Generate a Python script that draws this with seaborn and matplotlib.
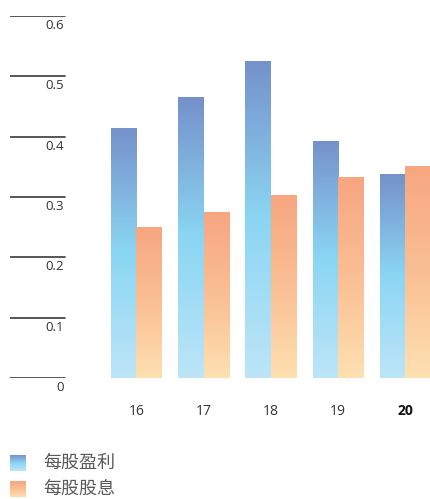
import matplotlib
matplotlib.use("Agg")
import matplotlib.pyplot as plt
import matplotlib.transforms as mtransforms
from matplotlib.colors import LinearSegmentedColormap
import seaborn as sns
import pandas as pd
import numpy as np

years = ["16", "17", "18", "19", "20"]
eps = [0.415, 0.465, 0.525, 0.393, 0.338]
dps = [0.250, 0.275, 0.303, 0.333, 0.352]
series = ["每股盈利", "每股股息"]
y_ticks = [0, 0.1, 0.2, 0.3, 0.4, 0.5, 0.6]

sns.set_theme(style="white")
plt.rcParams["font.family"] = ["Open Sans", "Noto Sans CJK SC", "DejaVu Sans"]

blue = LinearSegmentedColormap.from_list("blue", ["#7591cb", "#8bd6f3", "#bde5f8"])
orange = LinearSegmentedColormap.from_list("orange", ["#f7a680", "#fabf94", "#fee0b1"])
cmaps = [blue, orange]
grad = np.linspace(0, 1, 256).reshape(-1, 1)

df = pd.DataFrame({
    "year": years * 2,
    "value": eps + dps,
    "series": [series[0]] * len(years) + [series[1]] * len(years),
})

fig = plt.figure(figsize=(4.31, 4.99), dpi=100)
ax = fig.add_axes([10 / 431, 121 / 499, 421 / 431, 362 / 499])
sns.barplot(data=df, x="year", y="value", hue="series", hue_order=series,
            width=0.76, palette=["#7591cb", "#f7a680"], legend=False, ax=ax)

ax.set_xlim(-1.88, 4.38)
ax.set_ylim(0, 0.6)
ax.set_autoscale_on(False)

# gradient fill for every bar
for cont, cmap in zip(ax.containers, cmaps):
    for bar in cont:
        x0, y0 = bar.get_x(), bar.get_y()
        w, h = bar.get_width(), bar.get_height()
        im = ax.imshow(grad, cmap=cmap, aspect="auto", origin="upper",
                       extent=[x0, x0 + w, y0, y0 + h], zorder=2)
        im.set_clip_path(bar)
        bar.set_alpha(0)

# short gridlines on the left with labels below
for t in y_ticks:
    ax.axhline(t, xmin=0, xmax=55 / 421, color="#3a3a3a", lw=1.2, zorder=1)
    off = mtransforms.offset_copy(ax.get_yaxis_transform(), fig=fig, x=0, y=-3, units="dots")
    ax.text(54 / 421, t, f"{t:g}", transform=off, ha="right", va="top",
            fontsize=9.5, color="#333333")

ax.set_yticks([])
ax.set_xlabel("")
ax.set_ylabel("")
ax.tick_params(axis="x", length=0, pad=19, labelsize=10, labelcolor="#333333")
ax.get_xticklabels()[-1].set_fontweight("bold")
ax.get_xticklabels()[-1].set_color("#111111")
sns.despine(ax=ax, left=True, bottom=True)

# legend
for i, (name, cmap) in enumerate(zip(series, cmaps)):
    top = 455 + i * 26
    lax = fig.add_axes([10 / 431, 1 - (top + 16) / 499, 16 / 431, 16 / 499])
    lax.imshow(grad, cmap=cmap, aspect="auto", origin="upper")
    lax.axis("off")
    fig.text(43 / 431, 1 - (top + 8) / 499, name, fontsize=13, color="#5a5a5a",
             va="center", ha="left", family=["Noto Sans CJK SC", "DejaVu Sans"])

fig.savefig("out.png", dpi=100)
